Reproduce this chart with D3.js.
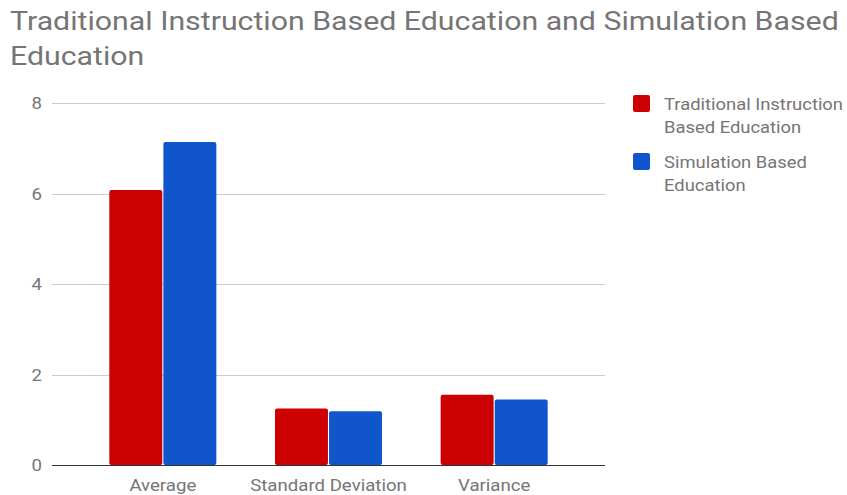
<!DOCTYPE html>
<html>
<head>
<meta charset="utf-8">
<script src="https://cdn.jsdelivr.net/npm/d3@7"></script>
<style>
  body { margin: 0; background: #fff; }
  svg { display: block; font-family: Roboto, "Noto Sans", sans-serif; }
</style>
</head>
<body>
<svg id="chart" width="847" height="495"></svg>
<script>
// Chart data
const categories = ["Average", "Standard Deviation", "Variance"];
const seriesNames = ["Traditional Instruction Based Education", "Simulation Based Education"];
const traditionalValues = [6.08, 1.25, 1.55];
const simulationValues = [7.14, 1.19, 1.45];
const yTicks = [0, 2, 4, 6, 8];
const titleLines = ["Traditional Instruction Based Education and Simulation Based", "Education"];
const legendLines = [["Traditional Instruction", "Based Education"], ["Simulation Based", "Education"]];
const colors = ["#cc0000", "#1155cc"];

const svg = d3.select("#chart");
const plot = { left: 52, right: 605, top: 103, bottom: 465 };
const textColor = "#757575";
const stretch = 1.165; // horizontal widening of the text face

// Places a text label at (x, y), widened horizontally
function label(parent, x, y, str, size, anchor) {
  parent.append("g")
    .attr("transform", `translate(${x},${y}) scale(${stretch},1)`)
    .append("text")
    .attr("text-anchor", anchor || "start")
    .attr("fill", textColor).attr("font-size", size)
    .text(str);
}

const y = d3.scaleLinear().domain([0, 8]).range([plot.bottom, plot.top]);
const x0 = d3.scaleBand().domain(categories).range([80, 577])
  .paddingInner(0.354).paddingOuter(0.177);
const x1 = d3.scaleBand().domain(d3.range(seriesNames.length))
  .range([0, x0.bandwidth()]).paddingInner(0.02);

// Title
const titleG = svg.append("g");
titleLines.forEach((t, i) => label(titleG, 10, 30 + i * 35, t, 26));

// Gridlines and y tick labels
const yAxis = svg.append("g");
yAxis.selectAll("line").data(yTicks.filter(t => t > 0)).join("line")
  .attr("x1", plot.left).attr("x2", plot.right)
  .attr("y1", d => Math.round(y(d)) + 0.5).attr("y2", d => Math.round(y(d)) + 0.5)
  .attr("stroke", "#cccccc");
yTicks.forEach(t => label(yAxis, 42, y(t) + 6, String(t), 16, "end"));

// Bars
const rows = categories.map((c, i) => ({ cat: c, vals: [traditionalValues[i], simulationValues[i]] }));
svg.append("g").selectAll("g").data(rows).join("g")
  .attr("transform", d => `translate(${x0(d.cat)},0)`)
  .selectAll("rect").data(d => d.vals.map((v, k) => ({ v, k }))).join("rect")
  .attr("x", d => x1(d.k)).attr("width", x1.bandwidth())
  .attr("y", d => y(d.v)).attr("height", d => y(0) - y(d.v))
  .attr("rx", 2).attr("fill", d => colors[d.k]);

// Baseline
svg.append("line")
  .attr("x1", plot.left).attr("x2", plot.right)
  .attr("y1", plot.bottom + 0.5).attr("y2", plot.bottom + 0.5)
  .attr("stroke", "#333333");

// Category labels
const xAxis = svg.append("g");
categories.forEach(c => label(xAxis, x0(c) + x0.bandwidth() / 2, 491, c, 16, "middle"));

// Legend
const legend = svg.append("g");
seriesNames.forEach((s, i) => {
  const top = 95 + i * 58;
  legend.append("rect").attr("x", 633).attr("y", top)
    .attr("width", 17).attr("height", 17).attr("rx", 2)
    .attr("fill", colors[i]);
  legendLines[i].forEach((t, j) => label(legend, 664, top + 15 + j * 23, t, 15.8));
});
</script>
</body>
</html>
